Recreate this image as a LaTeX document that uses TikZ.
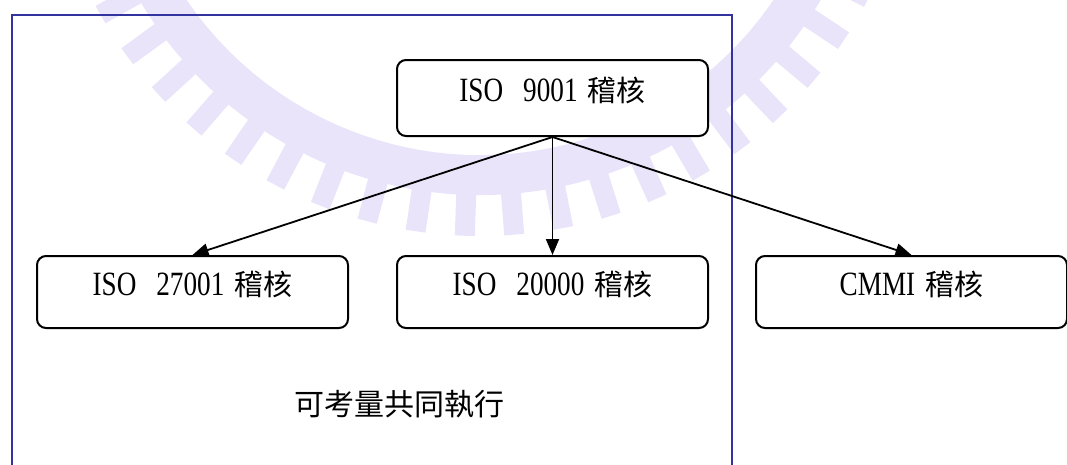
\documentclass[tikz,border=0pt]{standalone}
\usepackage{fontspec}
\setmainfont{Liberation Serif}
\newfontfamily\latinf[FakeStretch=0.8]{Liberation Serif}
\newfontfamily\cjkf{Noto Sans CJK TC}
\usetikzlibrary{arrows.meta}
\definecolor{wmcol}{RGB}{233,228,249}
\definecolor{framecol}{RGB}{51,51,160}
\newcommand{\lbl}[2]{{\fontsize{34}{40}\selectfont\latinf #1}\hspace{10pt}{\fontsize{29}{34}\selectfont\cjkf #2}}
\tikzset{
  wm/.style={draw=wmcol, line cap=butt},
  auditbox/.style={draw, line width=2pt, rounded corners=9pt, fill=white,
    minimum width=311pt, inner sep=0pt, text height=24pt, text depth=17pt, anchor=north west},
  arr/.style={line width=1.8pt, -{Triangle[length=16pt,width=13pt]}},
  frame/.style={draw=framecol, line width=2pt}
}
\begin{document}
\begin{tikzpicture}[x=1pt,y=-1pt]
\path[use as bounding box, clip] (0,0) rectangle (1067,464);
% watermark
\begin{scope}[shift={(480,-200)}]
  \draw[wm, line width=40pt] (22:375) arc[start angle=22, end angle=158, radius=375];
  \foreach \a in {27,33.5,...,153} {
    \draw[wm, line width=20pt] (\a:390) -- (\a:436);
  }
\end{scope}
% frame
\draw[frame] (12,470) -- (12,15) -- (732,15) -- (732,470);
% nodes
\node[auditbox, minimum height=76pt] (top) at (396,59) {\lbl{ISO\hspace{20pt}9001}{稽核}};
\node[auditbox, minimum height=72pt] (iso27) at (36,255) {\lbl{ISO\hspace{20pt}27001}{稽核}};
\node[auditbox, minimum height=72pt] (iso20) at (396,255) {\lbl{ISO\hspace{20pt}20000}{稽核}};
\node[auditbox, minimum height=72pt] (cmmi) at (755,255) {\lbl{CMMI}{稽核}};
\node[font=\fontsize{30}{36}\selectfont\cjkf] (note) at (399,404) {可考量共同執行};
% connectors
\draw[arr] (top.south) -- (iso27.north);
\draw[arr] (top.south) -- (iso20.north);
\draw[arr] (top.south) -- (cmmi.north);
\end{tikzpicture}
\end{document}
